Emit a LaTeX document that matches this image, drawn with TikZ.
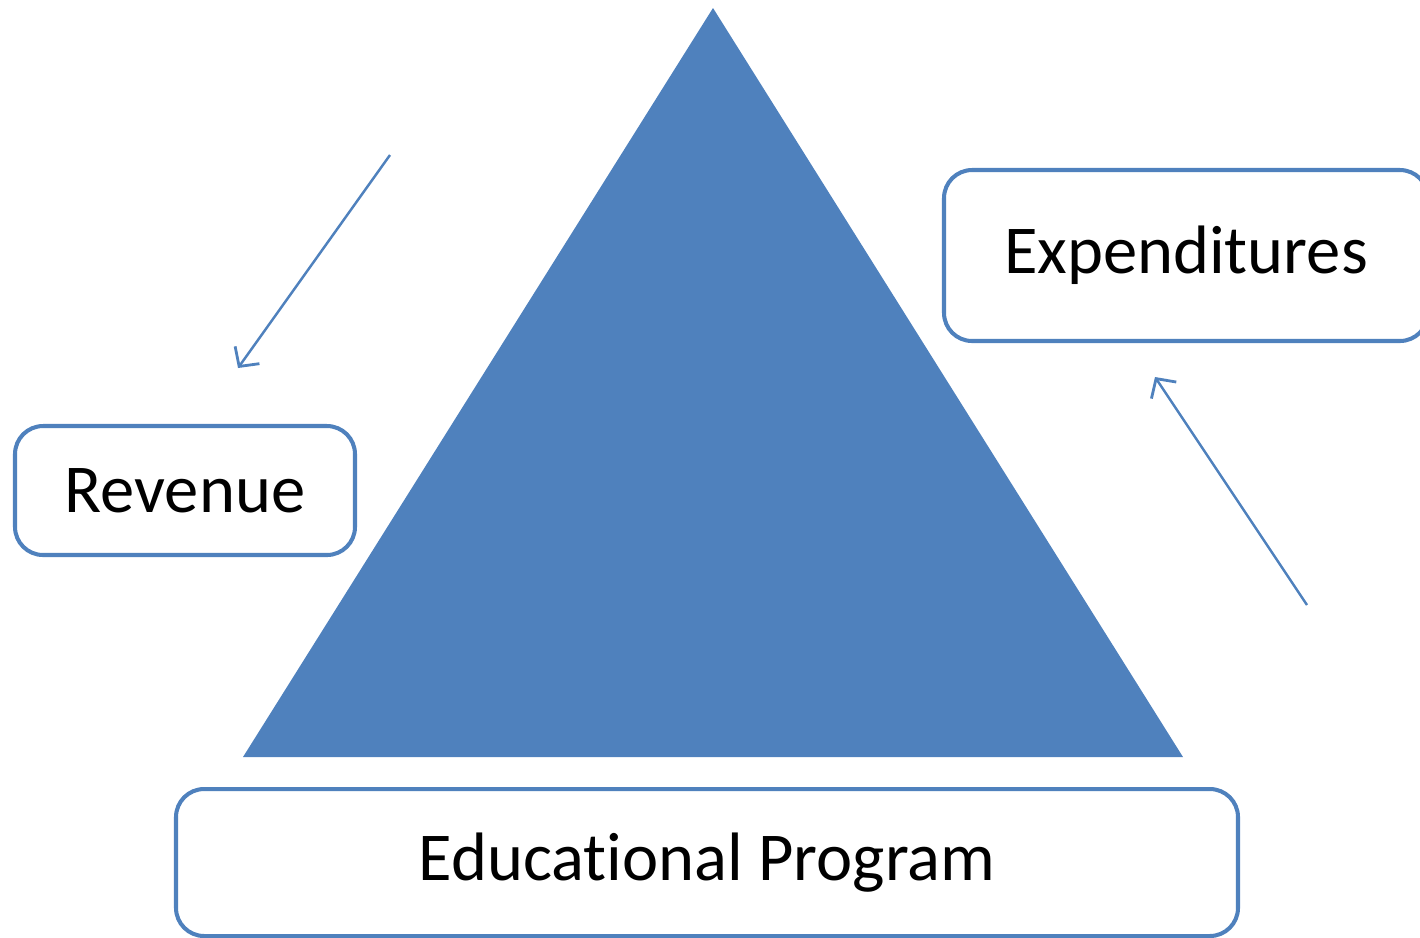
\documentclass[tikz,border=0pt]{standalone}
\usepackage{fontspec}
\setmainfont[Ligatures=NoCommon]{Carlito}
\usepackage{tikz}
\usetikzlibrary{positioning, arrows.meta}

\definecolor{officeblue}{HTML}{4F81BD}

\begin{document}
\begin{tikzpicture}[
    box/.style={draw=officeblue, line width=1.15pt, rounded corners=8pt, fill=white,
      inner sep=0pt, font=\fontsize{19.5}{23}\selectfont},
    thinarrow/.style={-{Straight Barb[length=4pt, width=8.5pt, line width=0.8pt]}, color=officeblue, line width=0.7pt}
  ]
    \useasboundingbox (0, 0) rectangle (14.2, -9.37);
    \clip (0, 0) rectangle (14.2, -9.37);

    % the triangle
    \coordinate (top) at (7.13, -0.08);
    \coordinate (bl) at (2.43, -7.57);
    \coordinate (br) at (11.83, -7.57);
    \fill[officeblue] (top) -- (bl) -- (br) -- cycle;

    \node[box, minimum width=3.40cm, minimum height=1.29cm] (rev) at (1.85, -4.905) {Revenue};
    \node[box, minimum width=4.84cm, minimum height=1.71cm] (exp) at (11.86, -2.555) {Expenditures};
    \node[box, minimum width=10.62cm, minimum height=1.47cm] (prog) at (7.07, -8.625) {Educational Program};

    % arrows
    \coordinate (a) at (3.90, -1.55);
    \coordinate (a') at (2.38, -3.68);
    \draw[thinarrow] (a) -- (a');

    \coordinate (b) at (13.07, -6.05);
    \coordinate (b') at (11.55, -3.77);
    \draw[thinarrow] (b) -- (b');
\end{tikzpicture}
\end{document}
